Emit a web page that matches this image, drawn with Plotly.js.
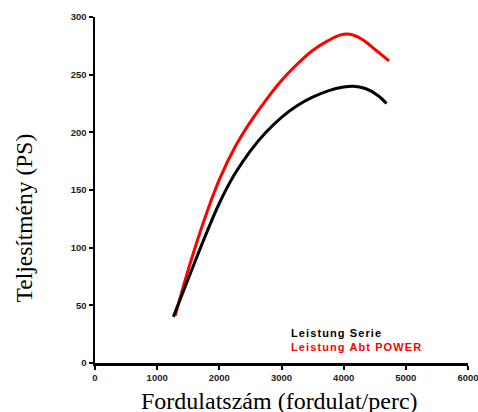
<!DOCTYPE html>
<html>
<head>
<meta charset="utf-8">
<script src="https://cdn.plot.ly/plotly-3.0.1.min.js"></script>
<style>html,body{margin:0;padding:0;background:#fff;}#chart{width:478px;height:412px;}</style>
</head>
<body>
<div id="chart"></div>
<script>
// Engine speed (rpm) and power (PS)
const rpmSerie = [1260, 1500, 1750, 2000, 2250, 2500, 2750, 3000, 3250, 3500, 3750, 4000, 4150, 4350, 4550, 4690];
const psSerie  = [40,   73,   107,  138.5, 164, 184,  200,  213,  223,  230.5, 236, 239.3, 240, 238, 232, 225];
const rpmAbt   = [1290, 1500, 1750, 2000, 2250, 2500, 2750, 3000, 3250, 3500, 3750, 3950, 4100, 4300, 4500, 4730];
const psAbt    = [41,   81,   123,  159,  187,  209,  228,  245,  259,  271,  279.5, 284.5, 285, 280.5, 272, 262];
const seriesNames = ["Leistung Serie", "Leistung Abt POWER"];
const xTicks = [0, 1000, 2000, 3000, 4000, 5000, 6000];
const yTicks = [0, 50, 100, 150, 200, 250, 300];
const xTitle = "Fordulatszám (fordulat/perc)";
const yTitle = "Teljesítmény (PS)";

const traces = [
  {x: rpmAbt, y: psAbt, name: seriesNames[1], mode: "lines",
   line: {color: "#ff0000", width: 3, shape: "spline", smoothing: 1}, showlegend: false, hoverinfo: "skip"},
  {x: rpmSerie, y: psSerie, name: seriesNames[0], mode: "lines",
   line: {color: "#000000", width: 3, shape: "spline", smoothing: 1}, showlegend: false, hoverinfo: "skip"}
];

const tickFont = {family: "Liberation Sans, Arial, sans-serif", size: 9.5, color: "#222", weight: "bold"};
const titleFont = {family: "Liberation Serif, Times New Roman, serif", size: 24, color: "#000"};
const legFont = {family: "Liberation Sans, Arial, sans-serif", size: 11, weight: "bold"};
const spaced = t => '<span style="letter-spacing:1.1px">' + t + '</span>';

const layout = {
  width: 478, height: 412,
  margin: {l: 95, r: 10, t: 17, b: 49, pad: 0},
  paper_bgcolor: "#fff", plot_bgcolor: "#fff",
  showlegend: false,
  xaxis: {
    range: [0, 6000], tickvals: xTicks, ticktext: xTicks.map(String),
    showgrid: false, zeroline: false, showline: true, linecolor: "#000", linewidth: 2.5,
    ticks: "outside", ticklen: 4, tickwidth: 2, tickcolor: "#000", tickfont: tickFont,
    ticklabeloverflow: "allow", fixedrange: true
  },
  yaxis: {
    range: [0, 300], tickvals: yTicks, ticktext: yTicks.map(String),
    showgrid: false, zeroline: false, showline: true, linecolor: "#000", linewidth: 2.5,
    ticks: "outside", ticklen: 4, tickwidth: 2, tickcolor: "#000", tickfont: tickFont,
    ticklabeloverflow: "allow", fixedrange: true
  },
  annotations: [
    {text: spaced(seriesNames[0]), xref: "paper", yref: "paper", x: 0.52, y: 0.087, xanchor: "left", yanchor: "middle",
     showarrow: false, font: Object.assign({color: "#000"}, legFont)},
    {text: spaced(seriesNames[1]), xref: "paper", yref: "paper", x: 0.52, y: 0.045, xanchor: "left", yanchor: "middle",
     showarrow: false, font: Object.assign({color: "#ff0000"}, legFont)},
    {text: xTitle, xref: "paper", yref: "paper", x: 0.495, y: -0.111, xanchor: "center", yanchor: "middle",
     showarrow: false, font: titleFont},
    {text: yTitle, xref: "paper", yref: "paper", x: -0.19, y: 0.418, xanchor: "center", yanchor: "middle",
     textangle: -90, showarrow: false, font: {family: "Liberation Serif, Times New Roman, serif", size: 23.5, color: "#000"}}
  ]
};

Plotly.newPlot("chart", traces, layout, {staticPlot: true, displayModeBar: false});
</script>
</body>
</html>
